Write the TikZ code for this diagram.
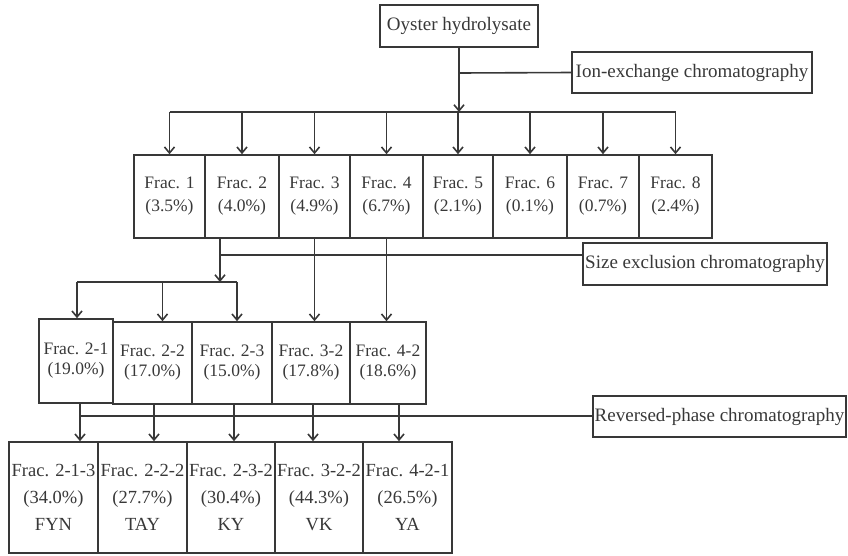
\documentclass[tikz,border=0pt]{standalone}
\usepackage{fontspec}
\setmainfont{Liberation Serif}
\usetikzlibrary{arrows.meta}
\definecolor{lc}{HTML}{383838}
\begin{document}
\begin{tikzpicture}[x=1pt,y=-1pt,
 box/.style={draw=lc,line width=1.6pt,inner sep=0pt,align=center,text=lc},
 lab/.style={box,font=\fontsize{19}{22}\selectfont},
 fa/.style={box,font=\fontsize{17.5}{23}\selectfont,minimum height=83},
 fb/.style={box,font=\fontsize{17.5}{20}\selectfont,minimum height=82},
 fc/.style={box,font=\fontsize{18.5}{27}\selectfont,minimum height=111},
 conn/.style={draw=lc,line width=1.6pt},
 arr/.style={conn,-{Straight Barb[length=6pt,width=10pt]}},
]
\useasboundingbox (0,0) rectangle (848,555);

% top
\node[lab,minimum width=158,minimum height=42] (oy) at (459,26) {Oyster hydrolysate};
\node[lab,minimum width=240,minimum height=41] (ion) at (692,72.5) {Ion-exchange chromatography};

% row 1
\node[fa,minimum width=71] (f1) at (169.5,196.5) {Frac. 1\\(3.5\%)};
\node[fa,minimum width=74] (f2) at (242,196.5) {Frac. 2\\(4.0\%)};
\node[fa,minimum width=71] (f3) at (314.5,196.5) {Frac. 3\\(4.9\%)};
\node[fa,minimum width=73] (f4) at (386.5,196.5) {Frac. 4\\(6.7\%)};
\node[fa,minimum width=70] (f5) at (458,196.5) {Frac. 5\\(2.1\%)};
\node[fa,minimum width=74] (f6) at (530,196.5) {Frac. 6\\(0.1\%)};
\node[fa,minimum width=72] (f7) at (603,196.5) {Frac. 7\\(0.7\%)};
\node[fa,minimum width=73] (f8) at (675.5,196.5) {Frac. 8\\(2.4\%)};

\node[lab,minimum width=244,minimum height=42] (se) at (705,264) {Size exclusion chromatography};

% row 2
\node[fb,minimum width=74,minimum height=84] (f21) at (76,361) {Frac. 2-1\\(19.0\%)};
\node[fb,minimum width=79] (f22) at (152.5,363) {Frac. 2-2\\(17.0\%)};
\node[fb,minimum width=80] (f23) at (232,363) {Frac. 2-3\\(15.0\%)};
\node[fb,minimum width=78] (f32) at (311,363) {Frac. 3-2\\(17.8\%)};
\node[fb,minimum width=76] (f42) at (388,363) {Frac. 4-2\\(18.6\%)};

\node[lab,minimum width=253,minimum height=41] (rp) at (719.5,416.5) {Reversed-phase chromatography};

% row 3
\node[fc,minimum width=89] (f213) at (53.5,497.5) {Frac. 2-1-3\\(34.0\%)\\FYN};
\node[fc,minimum width=89] (f222) at (142.5,497.5) {Frac. 2-2-2\\(27.7\%)\\TAY};
\node[fc,minimum width=88] (f232) at (231,497.5) {Frac. 2-3-2\\(30.4\%)\\KY};
\node[fc,minimum width=88] (f322) at (319,497.5) {Frac. 3-2-2\\(44.3\%)\\VK};
\node[fc,minimum width=89] (f421) at (407.5,497.5) {Frac. 4-2-1\\(26.5\%)\\YA};

% ion exchange
\coordinate (b1) at (459,112);
\coordinate (j1) at (459,73);
\draw[arr] (oy.south) -- (b1);
\draw[conn] (j1) -- (ion.west);
\draw[conn] (f1.north |- b1) -- (f8.north |- b1);
\foreach \n in {f1,f2,f3,f4,f5,f6,f7,f8}
  \draw[arr] (\n.north |- b1) -- (\n.north);

% size exclusion
\coordinate (j2) at (220,255);
\coordinate (k2) at (220,282);
\draw[arr] ([xshift=-22pt]f2.south) -- (k2);
\draw[conn] (j2) -- (j2 -| se.west);
\draw[conn] ([xshift=1pt]f21.north |- k2) -- ([xshift=5pt]f23.north |- k2);
\draw[arr] ([xshift=1pt]f21.north |- k2) -- ([xshift=1pt]f21.north);
\draw[arr] ([xshift=10pt]f22.north |- k2) -- ([xshift=10pt]f22.north);
\draw[arr] ([xshift=5pt]f23.north |- k2) -- ([xshift=5pt]f23.north);
\draw[arr] (f3.south) -- (f3.south |- f32.north);
\draw[arr] (f4.south) -- (f4.south |- f42.north);

% reversed phase
\coordinate (b3) at (80,416);
\draw[conn] ([xshift=4pt]f21.south |- b3) -- (b3 -| rp.west);
\draw[arr] ([xshift=4pt]f21.south) -- ([xshift=4pt]f21.south |- f213.north);
\draw[arr] ([xshift=1.5pt]f22.south) -- ([xshift=1.5pt]f22.south |- f222.north);
\draw[arr] ([xshift=2pt]f23.south) -- ([xshift=2pt]f23.south |- f232.north);
\draw[arr] ([xshift=2pt]f32.south) -- ([xshift=2pt]f32.south |- f322.north);
\draw[arr] ([xshift=11pt]f42.south) -- ([xshift=11pt]f42.south |- f421.north);
\end{tikzpicture}
\end{document}
